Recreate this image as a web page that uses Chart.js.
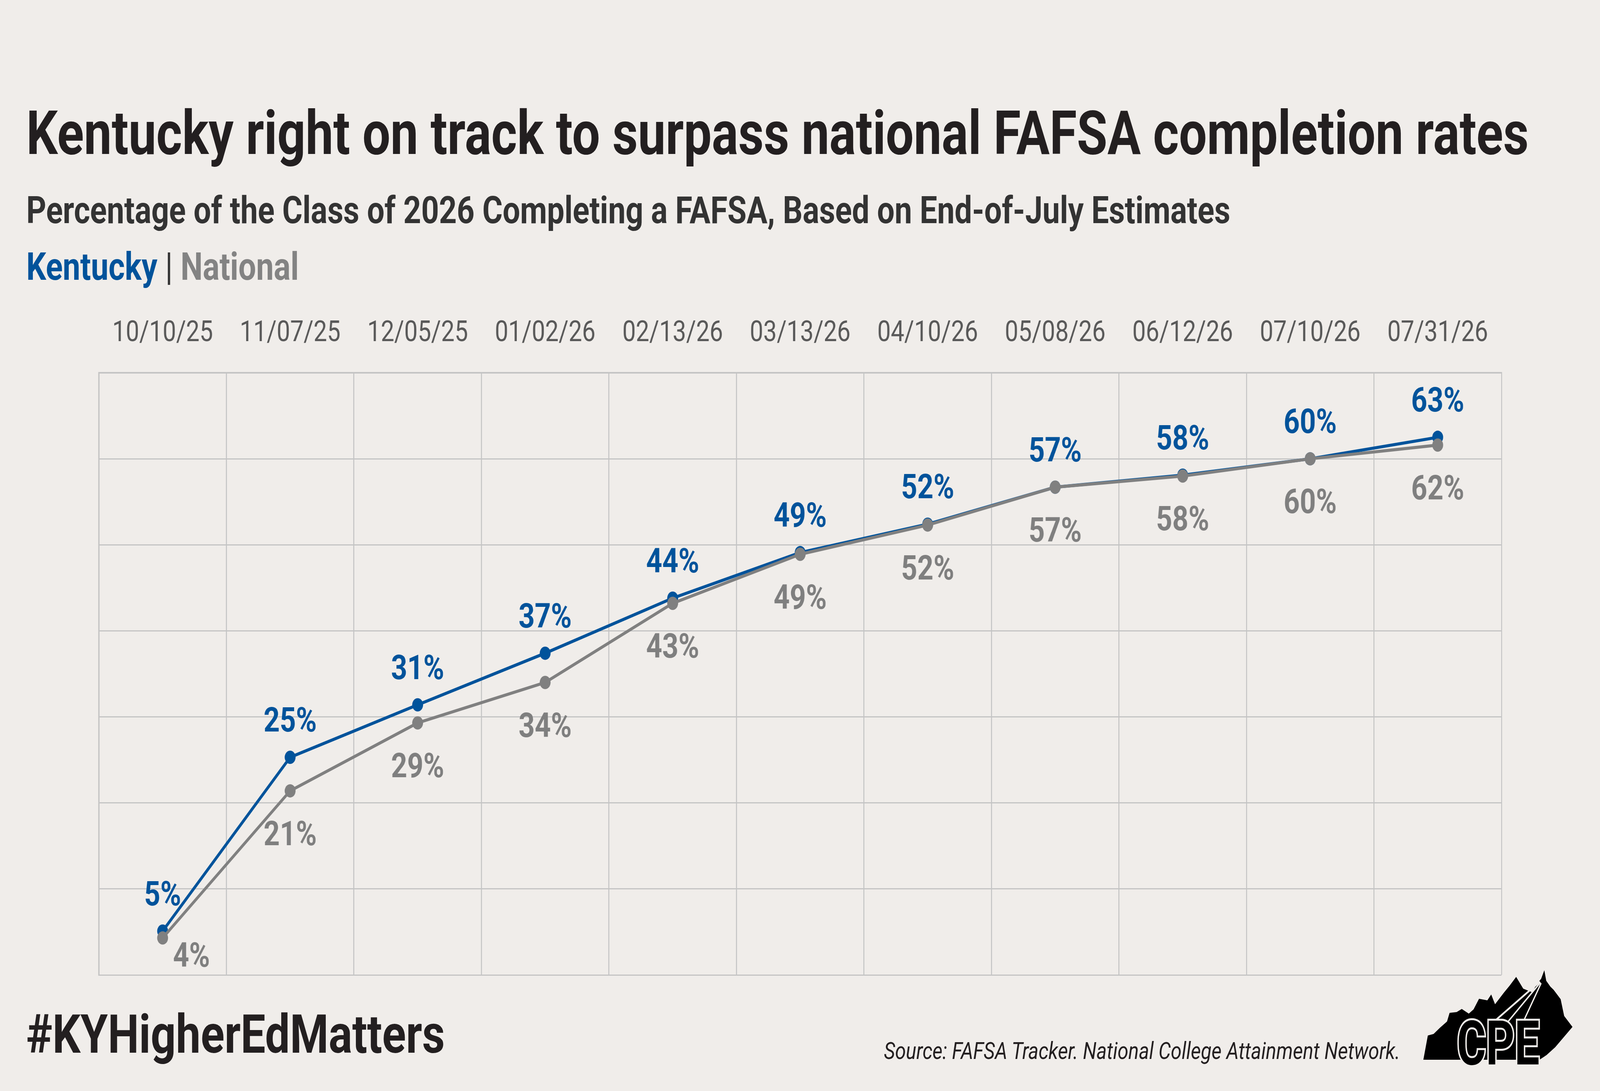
<!DOCTYPE html>
<html>
<head>
<meta charset="utf-8">
<script src="https://cdn.jsdelivr.net/npm/chart.js@4.4.1/dist/chart.umd.min.js"></script>
<style>
  html, body { margin: 0; padding: 0; background: #f0edea; overflow: hidden; }
  #page { position: relative; width: 5000px; height: 2792px; background: #f0edea; font-family: Roboto, "Noto Sans", sans-serif; transform-origin: 0 0; }
  #page canvas { position: absolute; left: 0; top: 0; }
  .txt { position: absolute; white-space: nowrap; line-height: 1; }
  #title { left: 82px; top: 264px; font-size: 155px; font-weight: 700; color: #231f20; }
  #subtitle { left: 82px; top: 490px; font-size: 97px; font-weight: 700; color: #333333; }
  #legend { left: 82px; top: 634px; font-size: 98px; font-weight: 700; }
  #legend .ky { color: #00539b; }
  #legend .bar { color: #333333; font-weight: 400; }
  #legend .nat { color: #838383; }
  #hashtag { left: 82px; top: 2578px; font-size: 138px; font-weight: 700; color: #231f20; }
  #source { left: 2762px; top: 2659px; font-size: 61px; font-style: italic; color: #231f20; }
  #logo { position: absolute; left: 0; top: 0; }
</style>
</head>
<body>
<div id="page">
  <canvas id="chart" width="5000" height="2792"></canvas>
  <div class="txt" id="title">Kentucky right on track to surpass national FAFSA completion rates</div>
  <div class="txt" id="subtitle">Percentage of the Class of 2026 Completing a FAFSA, Based on End-of-July Estimates</div>
  <div class="txt" id="legend"><span class="ky">Kentucky</span> <span class="bar">|</span> <span class="nat">National</span></div>
  <div class="txt" id="hashtag">#KYHigherEdMatters</div>
  <div class="txt" id="source">Source: FAFSA Tracker. National College Attainment Network.</div>
  <svg id="logo" width="5000" height="2792" viewBox="0 0 5000 2792">
    <path fill="#000" d="M4448,2712 L4462,2650 L4480,2646 L4500,2630 L4522,2614 L4530,2592 L4552,2590 L4568,2582 L4590,2594 L4605,2583 L4622,2556 L4648,2560 L4660,2545 L4672,2570 L4700,2540 L4718,2522 L4738,2500 L4760,2530 L4790,2540 L4800,2520 L4816,2505 L4826,2483 L4832,2510 L4845,2525 L4855,2533 L4877,2557 L4888,2600 L4914,2628 L4860,2680 L4833,2700 L4811,2712 Z"/>
    <line x1="4668" y1="2615" x2="4812" y2="2512" stroke="#f0edea" stroke-width="5"/>
    <line x1="4712" y1="2615" x2="4814" y2="2514" stroke="#f0edea" stroke-width="4"/>
    <line x1="4760" y1="2615" x2="4816" y2="2516" stroke="#f0edea" stroke-width="4"/>
    <text x="4553" y="2724" font-family="Roboto" font-weight="700" font-size="158" textLength="258" lengthAdjust="spacingAndGlyphs" fill="#000" stroke="#f0edea" stroke-width="10" paint-order="stroke">CPE</text>
  </svg>
</div>
<script>
// FAFSA completion, class of 2026 (percent)
const dates = ['10/10/25', '11/07/25', '12/05/25', '01/02/26', '02/13/26', '03/13/26',
               '04/10/26', '05/08/26', '06/12/26', '07/10/26', '07/31/26'];
const kentucky = [5.1, 25.3, 31.4, 37.4, 43.8, 49.1, 52.4, 56.7, 58.1, 60.0, 62.5];
const national = [4.3, 21.4, 29.3, 34.0, 43.2, 48.9, 52.3, 56.7, 58.0, 60.0, 61.6];

const BLUE = '#00539b';
const GRAY = '#808080';
const GRID = '#c4c4c4';

// the window can be narrower than the 5000px design, squeeze it to fit
const sx = Math.min(1, window.innerWidth / 5000);
const sy = Math.min(1, window.innerHeight / 2792);
document.getElementById('page').style.transform = 'scale(' + sx + ',' + sy + ')';

// percent labels above (Kentucky) and below (National) each point
const valueLabels = {
  id: 'valueLabels',
  afterDatasetsDraw(chart) {
    const ctx = chart.ctx;
    ctx.save();
    ctx.font = 'bold 88px Roboto';
    ctx.textAlign = 'center';
    ctx.textBaseline = 'alphabetic';
    chart.data.datasets.forEach((ds, di) => {
      const above = ds.label === 'Kentucky';
      chart.getDatasetMeta(di).data.forEach((pt, i) => {
        let x = pt.x;
        let y = above ? pt.y - 66 : pt.y + 139;
        if (!above && i === 0) { x += 90; y = pt.y + 74; }
        ctx.fillStyle = above ? BLUE : '#7f7f7f';
        ctx.fillText(Math.round(ds.data[i]) + '%', x, y);
      });
    });
    ctx.restore();
  }
};

function draw() {
  new Chart(document.getElementById('chart'), {
    type: 'line',
    data: {
      labels: dates,
      datasets: [
        { label: 'Kentucky', data: kentucky, borderColor: BLUE, backgroundColor: BLUE,
          pointBackgroundColor: BLUE, borderWidth: 8, pointRadius: 17, pointBorderWidth: 0,
          tension: 0, order: 2 },
        { label: 'National', data: national, borderColor: GRAY, backgroundColor: GRAY,
          pointBackgroundColor: GRAY, borderWidth: 8, pointRadius: 17, pointBorderWidth: 0,
          tension: 0, order: 1 }
      ]
    },
    options: {
      responsive: false,
      animation: false,
      devicePixelRatio: 1,
      layout: { padding: { left: 309, right: 308, top: 754, bottom: 297 } },
      plugins: { legend: { display: false }, tooltip: { enabled: false } },
      scales: {
        x: {
          position: 'top',
          offset: true,
          grid: { offset: true, color: GRID, lineWidth: 3, drawTicks: false },
          border: { color: GRID, width: 4 },
          ticks: { color: '#595959', padding: 55, font: { family: 'Roboto', size: 75 } }
        },
        y: {
          min: 0, max: 70,
          ticks: { display: false, stepSize: 10 },
          grid: { color: GRID, lineWidth: 3, drawTicks: false },
          border: { color: GRID, width: 4 }
        }
      }
    },
    plugins: [valueLabels]
  });
}

Promise.all([
  document.fonts.load('bold 88px Roboto'),
  document.fonts.load('75px Roboto')
]).then(draw, draw);
</script>
</body>
</html>
